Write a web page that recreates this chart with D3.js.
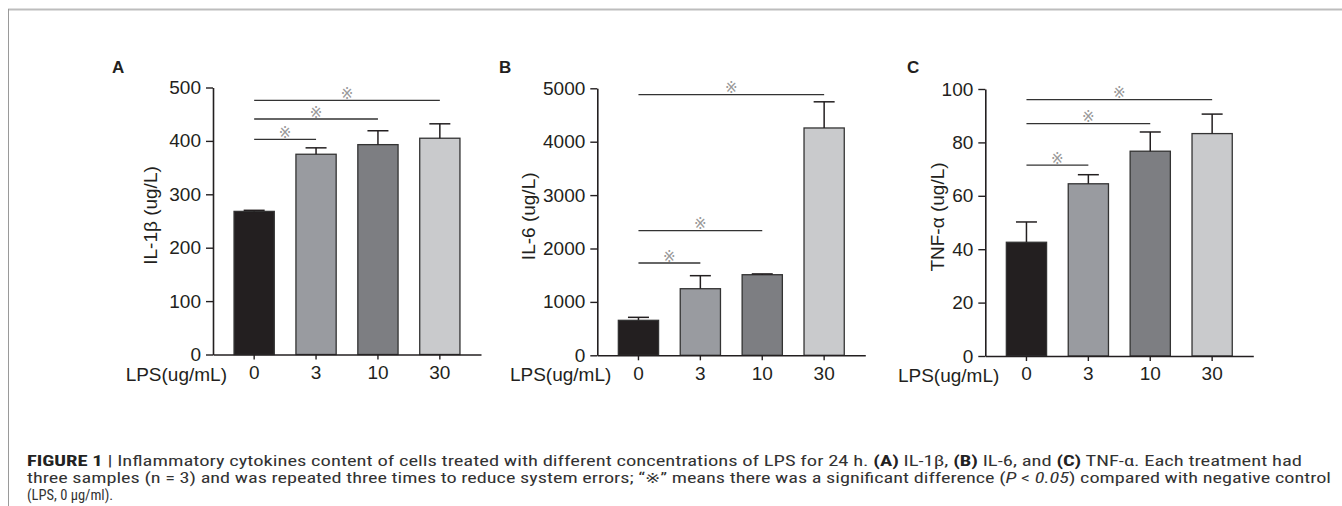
<!DOCTYPE html>
<html>
<head>
<meta charset="utf-8">
<script src="https://cdn.jsdelivr.net/npm/d3@7"></script>
<style>
  body { margin: 0; background: #fff; }
  svg text { font-family: "Liberation Sans", Arial, sans-serif; }
</style>
</head>
<body>
<svg id="fig" width="1342" height="506"></svg>
<script>
// LPS doses (x categories)
var doses = ["0", "3", "10", "30"]

// A: IL-1b
var il1bMean = [268, 375, 393, 405]
var il1bErr = [2, 12, 26, 27]
var il1bTicks = [0, 100, 200, 300, 400, 500]
var il1bSigTo = ["3", "10", "30"]
var il1bSigAt = [403, 441, 476]

// B: IL-6
var il6Mean = [655, 1247, 1509, 4257]
var il6Err = [56, 244, 15, 490]
var il6Ticks = [0, 1000, 2000, 3000, 4000, 5000]
var il6SigTo = ["3", "10", "30"]
var il6SigAt = [1728, 2333, 4880]

// C: TNF-a
var tnfMean = [42.6, 64.5, 76.7, 83.3]
var tnfErr = [7.6, 3.4, 7.2, 7.3]
var tnfTicks = [0, 20, 40, 60, 80, 100]
var tnfSigTo = ["3", "10", "30"]
var tnfSigAt = [71.5, 87, 96]

var barColors = ["#231f20", "#999ba0", "#7d7e82", "#c9cacc"]
var ink = "#231f20"

var svg = d3.select("#fig")

// page frame
svg.append("line").attr("x1", 8).attr("x2", 1342).attr("y1", 9.5).attr("y2", 9.5)
    .attr("stroke", "#bdbdbd").attr("stroke-width", 2)
svg.append("line").attr("x1", 8.5).attr("x2", 8.5).attr("y1", 9).attr("y2", 506)
    .attr("stroke", "#9a9a9a").attr("stroke-width", 1)

var panels = [
    { letter: "A", lx: 112, ax: 213, bottom: 354.5, max: 500, title: "IL-1β (ug/L)", tx: 150,
      mean: il1bMean, err: il1bErr, ticks: il1bTicks, sigTo: il1bSigTo, sigAt: il1bSigAt },
    { letter: "B", lx: 499, ax: 597.3, bottom: 355.3, max: 5000, title: "IL-6 (ug/L)", tx: 528,
      mean: il6Mean, err: il6Err, ticks: il6Ticks, sigTo: il6SigTo, sigAt: il6SigAt },
    { letter: "C", lx: 907, ax: 985.3, bottom: 356, max: 100, title: "TNF-α (ug/L)", tx: 937,
      mean: tnfMean, err: tnfErr, ticks: tnfTicks, sigTo: tnfSigTo, sigAt: tnfSigAt }
]

panels.forEach(function (p) {
    var g = svg.append("g")

    var x = d3.scaleBand()
        .domain(doses)
        .range([p.ax, p.ax + 268])
        .paddingInner(0.35)
        .paddingOuter(0.34)

    var y = d3.scaleLinear()
        .domain([0, p.max])
        .range([p.bottom, p.bottom - 267])

    // bars
    g.selectAll("rect.bar")
        .data(doses)
        .enter()
        .append("rect")
        .attr("class", "bar")
        .attr("x", d => x(d))
        .attr("y", (d, i) => y(p.mean[i]))
        .attr("width", x.bandwidth())
        .attr("height", (d, i) => p.bottom - y(p.mean[i]))
        .attr("fill", (d, i) => barColors[i])
        .attr("stroke", "#333")
        .attr("stroke-width", 1.3)

    // error bars (upper only)
    var eb = g.selectAll("g.err")
        .data(doses)
        .enter()
        .append("g")
        .attr("class", "err")
        .attr("stroke", ink)
        .attr("stroke-width", 1.5)
    eb.append("line")
        .attr("x1", d => x(d) + x.bandwidth() / 2)
        .attr("x2", d => x(d) + x.bandwidth() / 2)
        .attr("y1", (d, i) => y(p.mean[i]))
        .attr("y2", (d, i) => y(p.mean[i] + p.err[i]))
    eb.append("line")
        .attr("x1", d => x(d) + x.bandwidth() / 2 - 10.5)
        .attr("x2", d => x(d) + x.bandwidth() / 2 + 10.5)
        .attr("y1", (d, i) => y(p.mean[i] + p.err[i]))
        .attr("y2", (d, i) => y(p.mean[i] + p.err[i]))

    // significance brackets
    var c0 = x(doses[0]) + x.bandwidth() / 2
    p.sigTo.forEach(function (to, i) {
        var c1 = x(to) + x.bandwidth() / 2
        var ly = y(p.sigAt[i])
        g.append("line")
            .attr("x1", c0).attr("x2", c1)
            .attr("y1", ly).attr("y2", ly)
            .attr("stroke", "#333")
            .attr("stroke-width", 1.3)
        g.append("text")
            .attr("x", (c0 + c1) / 2)
            .attr("y", ly - 1.5)
            .attr("text-anchor", "middle")
            .style("font-family", "'DejaVu Sans', sans-serif")
            .style("font-size", "15px")
            .attr("fill", "#9a9a9a")
            .text("※")
    })

    // axes
    var yAxis = d3.axisLeft(y)
        .tickValues(p.ticks)
        .tickFormat(d3.format("d"))
        .tickSize(7)
        .tickSizeOuter(0)
        .tickPadding(5)
    var yg = g.append("g")
        .attr("transform", "translate(" + p.ax + ",0)")
        .call(yAxis)

    var xAxis = d3.axisBottom(x)
        .tickSize(5)
        .tickSizeOuter(0)
        .tickPadding(6)
    var xg = g.append("g")
        .attr("transform", "translate(0," + p.bottom + ")")
        .call(xAxis)

    ;[yg, xg].forEach(function (a) {
        a.select(".domain").attr("stroke", ink).attr("stroke-width", 1.6)
        a.selectAll(".tick line").attr("stroke", ink).attr("stroke-width", 1.4)
        a.selectAll(".tick text")
            .attr("fill", ink)
            .style("font-family", "'Liberation Sans', Arial, sans-serif")
            .style("font-size", "19px")
    })

    // x axis name
    g.append("text")
        .attr("x", p.ax + 14)
        .attr("y", p.bottom + 26)
        .attr("text-anchor", "end")
        .attr("fill", ink)
        .style("font-size", "19px")
        .text("LPS(ug/mL)")

    // y axis title
    g.append("text")
        .attr("transform", "translate(" + p.tx + "," + (p.bottom - 139) + ") rotate(-90)")
        .attr("text-anchor", "middle")
        .attr("dy", "0.35em")
        .attr("fill", ink)
        .style("font-size", "19px")
        .text(p.title)

    // panel letter
    g.append("text")
        .attr("x", p.lx)
        .attr("y", 72.7)
        .attr("fill", ink)
        .style("font-size", "17px")
        .style("font-weight", "bold")
        .text(p.letter)
})

// caption
var capFont = "'Liberation Sans Narrow', 'Roboto Condensed', 'DejaVu Sans Condensed', 'Liberation Sans', sans-serif"
var cap = svg.append("g")
    .attr("fill", "#333")
    .style("font-family", capFont)
    .style("font-size", "14.5px")

function capLine(yPos, width, parts) {
    var t = cap.append("text")
        .attr("x", 27)
        .attr("y", yPos)
        .style("font-family", capFont)
    if (width) t.attr("textLength", width).attr("lengthAdjust", "spacingAndGlyphs")
    parts.forEach(function (pt) {
        var s = t.append("tspan").text(pt[0]).style("font-family", capFont)
        if (pt[1] === "b") s.style("font-weight", "bold").attr("fill", "#222")
        if (pt[1] === "i") s.style("font-style", "italic")
    })
}

capLine(466, 1275, [
    ["FIGURE 1", "b"],
    [" | Inflammatory cytokines content of cells treated with different concentrations of LPS for 24 h. "],
    ["(A)", "b"], [" IL-1β, "], ["(B)", "b"], [" IL-6, and "], ["(C)", "b"],
    [" TNF-α. Each treatment had"]
])
capLine(483, 1304, [
    ["three samples (n = 3) and was repeated three times to reduce system errors; “※” means there was a significant difference ("],
    ["P", "i"], [" < "], ["0.05", "i"],
    [") compared with negative control"]
])
capLine(500, 0, [["(LPS, 0 μg/ml)."]])
</script>
</body>
</html>
